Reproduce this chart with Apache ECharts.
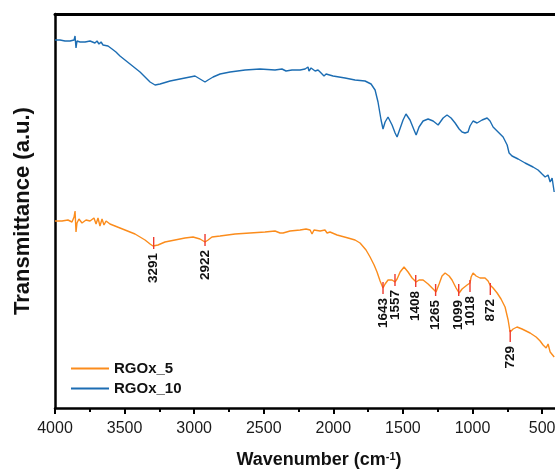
<!DOCTYPE html>
<html>
<head>
<meta charset="utf-8">
<script src="https://cdn.jsdelivr.net/npm/echarts@6/dist/echarts.min.js"></script>
<style>
  html, body { margin: 0; padding: 0; background: #fff; }
  #chart { width: 555px; height: 471px; }
</style>
</head>
<body>
<div id="chart"></div>
<script>
// FTIR spectra, wavenumber (cm-1) vs transmittance (a.u.)
var rgo10Wn = [4000, 3964, 3928, 3892, 3863, 3856, 3849, 3842, 3820, 3784, 3748, 3713, 3698, 3684, 3669, 3655, 3641, 3619, 3590, 3562,
  3533, 3497, 3461, 3425, 3389, 3353, 3317, 3281, 3245, 3173, 3102, 3030, 2994, 2958, 2922, 2900, 2864, 2814, 2742, 2634,
  2527, 2419, 2369, 2340, 2297, 2239, 2203, 2182, 2175, 2160, 2131, 2110, 2095, 2081, 2067, 2052, 2002, 1916, 1844, 1772,
  1729, 1700, 1679, 1657, 1643, 1628, 1607, 1578, 1556, 1542, 1528, 1499, 1478, 1449, 1420, 1405, 1384, 1355, 1319, 1283,
  1247, 1211, 1183, 1154, 1125, 1096, 1075, 1054, 1032, 1018, 996, 967, 931, 895, 874, 852, 816, 780, 751, 737,
  716, 672, 622, 565, 529, 500, 478, 457, 442, 428, 413];
var rgo10T = [368, 368, 367, 367, 368, 372, 360, 367, 366, 366, 367, 365, 367, 364, 366, 363, 365, 362, 359, 356,
  352, 348, 344, 340, 336, 331, 326, 323, 324, 327, 329, 331, 332, 329, 326, 328, 331, 334, 336, 338,
  339, 338, 339, 337, 338, 338, 339, 341, 337, 340, 337, 338, 336, 337, 332, 334, 332, 330, 328, 327,
  324, 318, 306, 288, 279, 286, 291, 283, 275, 271, 273, 288, 294, 288, 278, 273, 281, 287, 289, 287,
  283, 290, 293, 290, 285, 279, 276, 275, 276, 282, 287, 285, 288, 290, 287, 281, 276, 271, 263, 255,
  252, 249, 245, 241, 238, 234, 231, 233, 226, 230, 216];

var rgo5Wn = [4000, 3950, 3907, 3878, 3863, 3856, 3849, 3842, 3828, 3806, 3777, 3748, 3720, 3705, 3691, 3677, 3662, 3648, 3633, 3605,
  3569, 3533, 3497, 3461, 3425, 3389, 3353, 3317, 3296, 3260, 3210, 3138, 3066, 3008, 2958, 2922, 2900, 2872, 2814, 2706,
  2599, 2491, 2419, 2383, 2361, 2311, 2239, 2196, 2182, 2167, 2153, 2139, 2095, 2060, 2045, 2024, 1973, 1894, 1844, 1808,
  1765, 1736, 1707, 1686, 1664, 1643, 1628, 1607, 1578, 1557, 1542, 1520, 1492, 1463, 1434, 1405, 1384, 1355, 1319, 1283,
  1262, 1240, 1219, 1197, 1168, 1147, 1118, 1096, 1075, 1039, 1018, 1010, 996, 974, 946, 910, 888, 874, 852, 823,
  795, 766, 744, 730, 708, 680, 644, 586, 543, 514, 493, 471, 457, 442, 428, 413];
var rgo5T = [187, 187, 188, 186, 191, 197, 176, 185, 189, 185, 188, 187, 190, 184, 190, 182, 189, 183, 187, 184,
  182, 180, 178, 176, 174, 171, 168, 164, 162, 163, 166, 168, 170, 171, 169, 166, 168, 171, 172, 174,
  175, 176, 177, 175, 175, 177, 178, 179, 181, 178, 174, 178, 177, 178, 175, 176, 173, 170, 168, 165,
  158, 151, 143, 136, 127, 120, 124, 128, 128, 126, 129, 136, 141, 136, 130, 126, 128, 128, 124, 119,
  116, 124, 132, 135, 132, 128, 120, 115, 119, 123, 125, 131, 135, 132, 130, 130, 127, 123, 120, 115,
  109, 101, 88, 76, 79, 81, 79, 75, 71, 67, 63, 60, 64, 56, 58, 51];

// labelled bands on the RGOx_5 curve
var peakWn = [3291, 2922, 1643, 1557, 1408, 1265, 1099, 1018, 872, 729];
var peakT = [165, 168, 120, 128, 127, 118, 118, 122, 119, 72];

var xTicks = [4000, 3500, 3000, 2500, 2000, 1500, 1000, 500];
var xMinorTicks = [3750, 3250, 2750, 2250, 1750, 1250, 750];

var font = '"Liberation Sans", Arial, sans-serif';

function pairs(xs, ys) {
  return xs.map(function (x, i) { return [x, ys[i]]; });
}

var xBase = {
  type: 'value',
  min: 400,
  max: 4000,
  inverse: true,
  gridIndex: 0,
  splitLine: { show: false }
};

var option = {
  animation: false,
  grid: { left: 55, top: 14, width: 501, bottom: 63, show: false, containLabel: false, outerBoundsMode: 'none' },
  legend: {
    data: ['RGOx_5', 'RGOx_10'],
    orient: 'vertical',
    left: 66,
    top: 356,
    icon: 'rect',
    itemWidth: 38,
    itemHeight: 2,
    itemGap: 5,
    textStyle: { fontFamily: font, fontSize: 15, fontWeight: 'bold', color: '#111' }
  },
  xAxis: [
    Object.assign({}, xBase, {
      position: 'bottom',
      axisLine: { onZero: false, lineStyle: { color: '#000', width: 2.5 } },
      axisTick: { show: true, inside: false, length: 6, customValues: xTicks, lineStyle: { color: '#000', width: 2 } },
      axisLabel: {
        customValues: xTicks,
        margin: 13,
        fontFamily: font,
        fontSize: 16,
        color: '#1a1a1a',
        formatter: function (v) { return String(v); }
      },
      name: '{a|Wavenumber (cm}{s|-1}{a|)}',
      nameLocation: 'middle',
      nameGap: 43,
      nameTextStyle: {
        padding: [0, 0, 0, 27],
        rich: {
          a: { fontFamily: font, fontSize: 18, fontWeight: 'bold', color: '#111' },
          s: { fontFamily: font, fontSize: 11, fontWeight: 'bold', color: '#111', verticalAlign: 'top', padding: [0, 0, 8, 0] }
        }
      }
    }),
    Object.assign({}, xBase, {
      position: 'bottom',
      axisLine: { show: false },
      axisTick: { show: true, length: 4, customValues: xMinorTicks, lineStyle: { color: '#000', width: 2 } },
      axisLabel: { show: false }
    }),
    Object.assign({}, xBase, {
      position: 'top',
      axisLine: { onZero: false, lineStyle: { color: '#000', width: 3 } },
      axisTick: { show: false },
      axisLabel: { show: false }
    })
  ],
  yAxis: {
    type: 'value',
    min: 0,
    max: 394,
    splitLine: { show: false },
    axisTick: { show: false },
    axisLabel: { show: false },
    axisLine: { show: true, onZero: false, lineStyle: { color: '#000', width: 2.5 } },
    name: 'Transmittance (a.u.)',
    nameLocation: 'middle',
    nameGap: 21,
    nameTextStyle: { fontFamily: font, fontSize: 22, fontWeight: 'bold', color: '#111' }
  },
  series: [
    {
      name: 'RGOx_5',
      type: 'line',
      data: pairs(rgo5Wn, rgo5T),
      showSymbol: false,
      lineStyle: { width: 1.4 },
      color: '#fb8c1c'
    },
    {
      name: 'RGOx_10',
      type: 'line',
      data: pairs(rgo10Wn, rgo10T),
      showSymbol: false,
      lineStyle: { width: 1.4 },
      color: '#1c6db3'
    },
    {
      name: 'peaks',
      type: 'custom',
      silent: true,
      z: 5,
      data: pairs(peakWn, peakT),
      renderItem: function (params, api) {
        var p = api.coord([api.value(0), api.value(1)]);
        return {
          type: 'group',
          children: [
            {
              type: 'line',
              shape: { x1: p[0], y1: p[1] - 6, x2: p[0], y2: p[1] + 6 },
              style: { stroke: '#ee3a2e', lineWidth: 1.4 }
            },
            {
              type: 'text',
              x: p[0],
              y: p[1] + 10,
              rotation: Math.PI / 2,
              style: {
                text: String(peakWn[params.dataIndex]),
                align: 'right',
                verticalAlign: 'middle',
                font: 'bold 13.5px ' + font,
                fill: '#111'
              }
            }
          ]
        };
      }
    }
  ]
};

var myChart = echarts.init(document.getElementById('chart'));
myChart.setOption(option);
</script>
</body>
</html>
